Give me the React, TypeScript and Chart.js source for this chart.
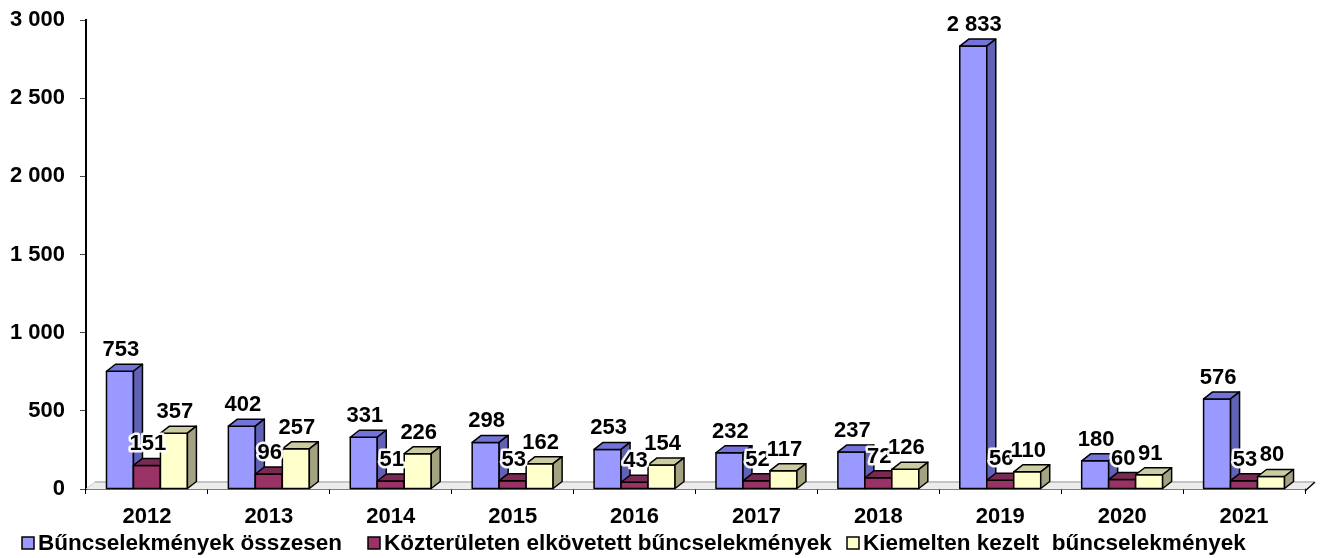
import React, { useEffect, useRef } from "react";
import { Chart, registerables } from "chart.js";

Chart.register(...registerables);

const categories = ["2012", "2013", "2014", "2015", "2016", "2017", "2018", "2019", "2020", "2021"];
const totalCrimes = [753, 402, 331, 298, 253, 232, 237, 2833, 180, 576];
const publicCrimes = [151, 96, 51, 53, 43, 52, 72, 56, 60, 53];
const priorityCrimes = [357, 257, 226, 162, 154, 117, 126, 110, 91, 80];
const seriesNames = [
  "Bűncselekmények összesen",
  "Közterületen elkövetett bűncselekmények",
  "Kiemelten kezelt  bűncselekmények",
];
const yTicks = [0, 500, 1000, 1500, 2000, 2500, 3000];

const FACE = [
  { front: "#9999FF", top: "#7373D9", side: "#6161B5" },
  { front: "#993366", top: "#7A2952", side: "#5E1F3F" },
  { front: "#FFFFCC", top: "#CCCCA3", side: "#A3A382" },
];

const FONT = '"Liberation Sans", Arial, sans-serif';
const DX = 9;
const DY = 7;
const LEGEND_X = [22, 368, 847];

const fmt = (v: number) => String(v).replace(/\B(?=(\d{3})+(?!\d))/g, " ");

const poly = (ctx: CanvasRenderingContext2D, pts: number[][], fill: string) => {
  ctx.beginPath();
  ctx.moveTo(pts[0][0], pts[0][1]);
  for (let i = 1; i < pts.length; i++) ctx.lineTo(pts[i][0], pts[i][1]);
  ctx.closePath();
  ctx.fillStyle = fill;
  ctx.fill();
  ctx.stroke();
};

const bars3d = {
  id: "bars3d",
  beforeDatasetsDraw(chart: any) {
    const { ctx, chartArea } = chart;
    const l = chartArea.left, r = chartArea.right, b = chartArea.bottom;
    ctx.save();
    ctx.beginPath();
    ctx.moveTo(l, b);
    ctx.lineTo(l + DX, b - DY);
    ctx.lineTo(r + DX, b - DY);
    ctx.lineTo(r, b);
    ctx.closePath();
    ctx.fillStyle = "#ececec";
    ctx.fill();
    ctx.strokeStyle = "#c4c4c4";
    ctx.lineWidth = 2;
    ctx.beginPath();
    ctx.moveTo(l + DX, b - DY);
    ctx.lineTo(r + DX, b - DY);
    ctx.stroke();
    ctx.lineWidth = 1;
    ctx.strokeStyle = "#cccccc";
    ctx.beginPath();
    ctx.moveTo(l, b);
    ctx.lineTo(l + DX, b - DY);
    ctx.stroke();
    ctx.strokeStyle = "#000";
    ctx.lineWidth = 1.5;
    ctx.beginPath();
    ctx.moveTo(r, b + 2);
    ctx.lineTo(r + DX + 1, b - DY);
    ctx.stroke();
    ctx.restore();
  },
  afterDatasetsDraw(chart: any) {
    const { ctx } = chart;
    const metas = [0, 1, 2].map((i) => chart.getDatasetMeta(i));
    ctx.save();
    ctx.strokeStyle = "#000";
    ctx.lineWidth = 1.5;
    ctx.lineJoin = "round";
    for (let i = 0; i < categories.length; i++) {
      for (let d = 0; d < 3; d++) {
        const el = metas[d].data[i];
        if (!el) continue;
        const x0 = el.x - el.width / 2;
        const x1 = el.x + el.width / 2;
        const y0 = el.y;
        const y1 = el.base;
        const c = FACE[d];
        poly(ctx, [[x0, y0], [x1, y0], [x1, y1], [x0, y1]], c.front);
        poly(ctx, [[x0, y0], [x0 + DX, y0 - DY], [x1 + DX, y0 - DY], [x1, y0]], c.top);
        poly(ctx, [[x1, y0], [x1 + DX, y0 - DY], [x1 + DX, y1 - DY], [x1, y1]], c.side);
      }
    }
    ctx.font = `bold 22px ${FONT}`;
    ctx.textAlign = "center";
    ctx.textBaseline = "alphabetic";
    for (let i = 0; i < categories.length; i++) {
      for (let d = 0; d < 3; d++) {
        const el = metas[d].data[i];
        if (!el) continue;
        const v = chart.data.datasets[d].data[i];
        const tx = el.x + 1;
        const ty = el.y - DY - 8;
        ctx.strokeStyle = "rgba(255,255,255,0.95)";
        ctx.lineWidth = 5;
        ctx.lineJoin = "round";
        ctx.strokeText(fmt(v), tx, ty);
        ctx.fillStyle = "#000";
        ctx.fillText(fmt(v), tx, ty);
      }
    }
    ctx.restore();
  },
  afterDraw(chart: any) {
    const { ctx } = chart;
    ctx.save();
    ctx.font = `bold 22.5px ${FONT}`;
    ctx.textAlign = "left";
    ctx.textBaseline = "alphabetic";
    for (let d = 0; d < 3; d++) {
      const mx = LEGEND_X[d];
      ctx.fillStyle = FACE[d].front;
      ctx.fillRect(mx, 537, 12, 12);
      ctx.strokeStyle = "#000";
      ctx.lineWidth = 1.5;
      ctx.strokeRect(mx, 537, 12, 12);
      ctx.fillStyle = "#000";
      ctx.fillText(seriesNames[d], mx + 16, 550);
    }
    ctx.restore();
  },
};

export default function App() {
  const ref = useRef<HTMLCanvasElement | null>(null);
  useEffect(() => {
    document.body.style.margin = "0";
    const canvas = ref.current;
    if (!canvas) return;
    const chart = new Chart(canvas, {
      type: "bar",
      data: {
        labels: categories,
        datasets: [totalCrimes, publicCrimes, priorityCrimes].map((data, i) => ({
          label: seriesNames[i],
          data,
          backgroundColor: "rgba(0,0,0,0)",
          borderWidth: 0,
          barPercentage: 1,
          categoryPercentage: 0.664,
        })),
      },
      options: {
        responsive: false,
        animation: false,
        devicePixelRatio: 1,
        layout: { padding: { left: 0, right: 21, top: 20, bottom: 0 } },
        plugins: {
          legend: { display: false },
          tooltip: { enabled: false },
          title: { display: false },
        },
        scales: {
          x: {
            type: "category",
            grid: {
              offset: true,
              drawOnChartArea: false,
              drawTicks: true,
              tickLength: 5,
              color: "#000",
              lineWidth: 1,
            },
            border: { display: true, color: "#000", width: 1.5 },
            ticks: {
              color: "#000",
              font: { family: FONT, size: 22, weight: "bold" },
              padding: 10,
              maxRotation: 0,
              autoSkip: false,
            },
            afterFit(scale: any) {
              scale.height = 69;
              scale.paddingLeft = 0;
              scale.paddingRight = 0;
            },
          },
          y: {
            type: "linear",
            min: 0,
            max: 3000,
            afterBuildTicks(scale: any) {
              scale.ticks = yTicks.map((v) => ({ value: v }));
            },
            grid: {
              drawOnChartArea: false,
              drawTicks: true,
              tickLength: 6,
              color: "#444",
              lineWidth: 1,
            },
            border: { display: true, color: "#000", width: 2 },
            ticks: {
              color: "#000",
              font: { family: FONT, size: 22, weight: "bold" },
              padding: 15,
              callback: (v: any) => fmt(Number(v)),
            },
            afterFit(scale: any) {
              scale.width = 86;
              scale.paddingTop = 0;
              scale.paddingBottom = 0;
            },
          },
        },
      },
      plugins: [bars3d],
    });
    return () => chart.destroy();
  }, []);
  return (
    <div style={{ width: 1326, height: 558 }}>
      <canvas ref={ref} width={1326} height={558} style={{ display: "block" }} />
    </div>
  );
}
